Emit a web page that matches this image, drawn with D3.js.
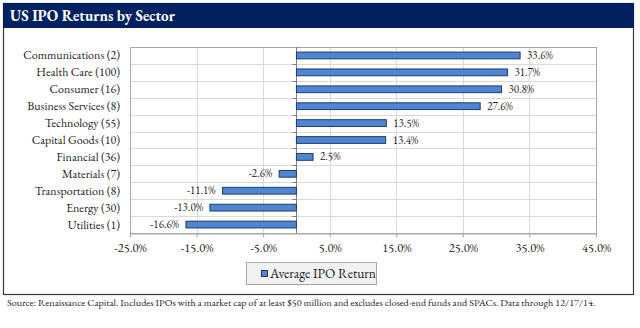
<!DOCTYPE html>
<html>
<head>
<meta charset="utf-8">
<script src="https://cdn.jsdelivr.net/npm/d3@7"></script>
<style>
body{margin:0;background:#fff;}
</style>
</head>
<body>
<div id="chart"></div>
<script>
const width = 640;
const height = 328;

// data
const sectors = ["Communications (2)","Health Care (100)","Consumer (16)","Business Services (8)","Technology (55)","Capital Goods (10)","Financial (36)","Materials (7)","Transportation (8)","Energy (30)","Utilities (1)"];
const returns = [33.6,31.7,30.8,27.6,13.5,13.4,2.5,-2.6,-11.1,-13.0,-16.6];
const xTicks = [-25,-15,-5,5,15,25,35,45];
const title = "US IPO Returns by Sector";
const seriesName = "Average IPO Return";
const source = "Source: Renaissance Capital. Includes IPOs with a market cap of at least $50 million and excludes closed-end funds and SPACs. Data through 12/17/14.";

const data = sectors.map((s,i)=>({sector:s,value:returns[i]}));

const FONT = '"EB Garamond", "Liberation Serif", serif';
const pct = v => (v<0?"-":"") + Math.abs(v).toFixed(1) + "%";

const plot = {left:130,right:596,top:47,bottom:233};

const svg = d3.select("#chart")
.append("svg")
.attr("width",width)
.attr("height",height)
.style("font-family",FONT);

// outer frame + header
svg.append("rect")
.attr("x",3.5).attr("y",3.5)
.attr("width",630).attr("height",291)
.attr("fill","#fff")
.attr("stroke","#3a3a3a")
.attr("stroke-width",1.2);

svg.append("rect")
.attr("x",3).attr("y",3)
.attr("width",631).attr("height",25)
.attr("fill","#002060");

svg.append("text")
.attr("x",10).attr("y",21)
.style("font-family",FONT)
.style("fill","#fff")
.style("font-weight","bold")
.style("font-size","15px")
.text(title);

const x = d3.scaleLinear()
.domain([-25,45])
.range([plot.left,plot.right]);

const y = d3.scaleBand()
.domain(sectors)
.range([plot.top,plot.bottom])
.paddingInner(0.6)
.paddingOuter(0.3);

const yRow = d3.scaleBand()
.domain(sectors)
.range([plot.top,plot.bottom]);

// GRID vertical
svg.append("g")
.selectAll("line")
.data(xTicks)
.enter()
.append("line")
.attr("x1",d=>Math.round(x(d))+0.5).attr("x2",d=>Math.round(x(d))+0.5)
.attr("y1",plot.top).attr("y2",plot.bottom)
.attr("stroke","#d9d9d9");

// GRID horizontal (between categories)
svg.append("g")
.selectAll("line")
.data(sectors.slice(1))
.enter()
.append("line")
.attr("x1",plot.left).attr("x2",plot.right)
.attr("y1",d=>Math.round(yRow(d))+0.5).attr("y2",d=>Math.round(yRow(d))+0.5)
.attr("stroke","#d9d9d9");

// plot frame
svg.append("rect")
.attr("x",plot.left+0.5).attr("y",plot.top+0.5)
.attr("width",plot.right-plot.left).attr("height",plot.bottom-plot.top)
.attr("fill","none")
.attr("stroke","#a6a6a6");

// X AXIS
const xAxis = svg.append("g")
.attr("transform",`translate(0,${plot.bottom+0.5})`)
.call(d3.axisBottom(x).tickValues(xTicks).tickSize(4).tickSizeOuter(0).tickFormat(pct));
xAxis.attr("font-family",null);
xAxis.select(".domain").attr("stroke","#a6a6a6");
xAxis.selectAll(".tick line").attr("stroke","#a6a6a6");
xAxis.selectAll("text")
.attr("y",10)
.style("font-family",FONT)
.style("font-size","12.5px")
.style("fill","#1a1a1a");

// zero axis with ticks
const zeroAxis = svg.append("g")
.attr("transform",`translate(${Math.round(x(0))+0.5},0)`);
zeroAxis.append("line")
.attr("y1",plot.top).attr("y2",plot.bottom)
.attr("stroke","#7f7f7f");
zeroAxis.selectAll(".tk")
.data(sectors.slice(1))
.enter()
.append("line")
.attr("x1",-4).attr("x2",0)
.attr("y1",d=>Math.round(yRow(d))+0.5).attr("y2",d=>Math.round(yRow(d))+0.5)
.attr("stroke","#7f7f7f");

// category labels
svg.append("g")
.selectAll("text")
.data(sectors)
.enter()
.append("text")
.attr("x",120)
.attr("y",d=>yRow(d)+yRow.bandwidth()/2+4)
.attr("text-anchor","end")
.style("font-family",FONT)
.style("fill","#1a1a1a")
.style("font-size","12px")
.text(d=>d);

// BARS
svg.append("g")
.selectAll("rect")
.data(data)
.enter()
.append("rect")
.attr("x",d=>x(Math.min(0,d.value)))
.attr("y",d=>y(d.sector))
.attr("width",d=>Math.abs(x(d.value)-x(0)))
.attr("height",y.bandwidth())
.attr("fill","#4f86d4")
.attr("stroke","#1f3b66")
.attr("stroke-width",1);

// VALUE LABELS
svg.append("g")
.selectAll("text")
.data(data)
.enter()
.append("text")
.attr("x",d=>d.value>=0 ? x(d.value)+7 : x(d.value)-7)
.attr("y",d=>yRow(d.sector)+yRow.bandwidth()/2+3.5)
.attr("text-anchor",d=>d.value>=0?"start":"end")
.style("font-family",FONT)
.style("fill","#1a1a1a")
.style("font-size","11px")
.text(d=>pct(d.value));

// LEGEND
const legend = svg.append("g");
legend.append("rect")
.attr("x",246.5).attr("y",262.5)
.attr("width",130).attr("height",22)
.attr("fill","#f2f2f2")
.attr("stroke","#a6a6a6");
legend.append("rect")
.attr("x",261.5).attr("y",270.5)
.attr("width",6).attr("height",6)
.attr("fill","#4f86d4")
.attr("stroke","#1f3b66");
legend.append("text")
.attr("x",270).attr("y",277.5)
.style("font-family",FONT)
.style("fill","#1a1a1a")
.style("font-size","13.5px")
.text(seriesName);

// SOURCE
svg.append("text")
.attr("x",7).attr("y",306)
.style("font-family",FONT)
.style("fill","#1a1a1a")
.style("font-size","10.2px")
.text(source);
</script>
</body>
</html>
